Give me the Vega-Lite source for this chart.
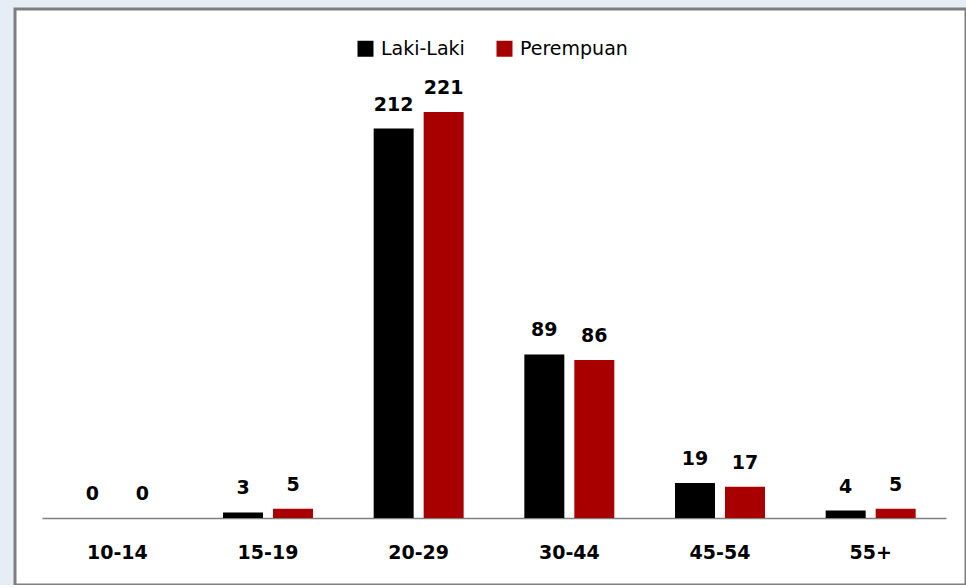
{
  "$schema": "https://vega.github.io/schema/vega-lite/v6.json",
  "autosize": "none",
  "width": 951,
  "height": 576,
  "padding": {"left": 15, "top": 9, "right": 0, "bottom": 0},
  "background": "#e6edf5",
  "config": {
    "view": {"stroke": "#7f7f7f", "strokeWidth": 3, "fill": "#ffffff"},
    "font": "DejaVu Sans"
  },
  "data": {
    "values": [
      {"umur": "10-14", "jenis": "Laki-Laki", "jumlah": 0},
      {"umur": "10-14", "jenis": "Perempuan", "jumlah": 0},
      {"umur": "15-19", "jenis": "Laki-Laki", "jumlah": 3},
      {"umur": "15-19", "jenis": "Perempuan", "jumlah": 5},
      {"umur": "20-29", "jenis": "Laki-Laki", "jumlah": 212},
      {"umur": "20-29", "jenis": "Perempuan", "jumlah": 221},
      {"umur": "30-44", "jenis": "Laki-Laki", "jumlah": 89},
      {"umur": "30-44", "jenis": "Perempuan", "jumlah": 86},
      {"umur": "45-54", "jenis": "Laki-Laki", "jumlah": 19},
      {"umur": "45-54", "jenis": "Perempuan", "jumlah": 17},
      {"umur": "55+", "jenis": "Laki-Laki", "jumlah": 4},
      {"umur": "55+", "jenis": "Perempuan", "jumlah": 5}
    ]
  },
  "encoding": {
    "x": {
      "field": "umur", "type": "nominal", "sort": null,
      "scale": {"range": [27, 931], "paddingInner": 0, "paddingOuter": 0},
      "axis": {
        "title": null, "orient": "bottom", "offset": -67,
        "labelAngle": 0, "ticks": false, "grid": false,
        "domainColor": "#7f7f7f", "domainWidth": 1.5,
        "labelFont": "DejaVu Sans", "labelFontSize": 19, "labelFontWeight": "bold",
        "labelColor": "#000000", "labelPadding": 25
      }
    },
    "xOffset": {
      "field": "jenis", "type": "nominal",
      "scale": {"paddingInner": 0.2, "paddingOuter": 0.607}
    },
    "y": {
      "field": "jumlah", "type": "quantitative",
      "scale": {"domain": [-36.5, 277.1], "nice": false, "zero": false},
      "axis": null
    }
  },
  "layer": [
    {
      "mark": {"type": "bar"},
      "encoding": {
        "color": {
          "field": "jenis", "type": "nominal",
          "scale": {"domain": ["Laki-Laki", "Perempuan"], "range": ["#000000", "#a80000"]},
          "legend": {
            "title": null, "orient": "none", "direction": "horizontal",
            "legendX": 341, "legendY": 30,
            "symbolType": "square", "symbolSize": 256, "symbolStrokeWidth": 0,
            "labelFont": "DejaVu Sans", "labelFontSize": 19, "labelColor": "#000000",
            "labelOffset": 6, "columnPadding": 30
          }
        }
      }
    },
    {
      "mark": {"type": "text", "dy": -18, "baseline": "alphabetic", "fontSize": 19, "fontWeight": "bold", "color": "#000000"},
      "encoding": {
        "text": {"field": "jumlah", "type": "quantitative"}
      }
    }
  ]
}
